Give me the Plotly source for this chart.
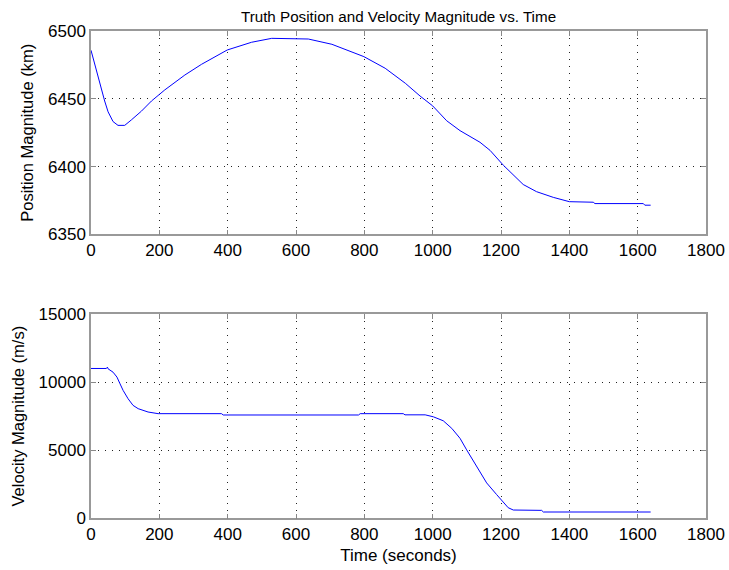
import plotly.graph_objects as go

# Position magnitude (km) vs time (s)
pos_t = [0, 10, 20, 30, 40, 50, 64.5, 79, 98.7, 118, 147.6, 177, 216, 274.7, 323.5,
         398.8, 470, 529, 597, 636, 705, 798.6, 861, 920, 963, 1000, 1041, 1080, 1138.5,
         1168, 1207, 1236, 1265, 1304, 1353, 1400, 1470, 1475, 1616.6, 1621, 1638]
pos_v = [6486, 6476.5, 6467, 6457, 6448.5, 6440.5, 6433.3, 6430.5, 6430.5, 6434.5, 6441,
         6448.5, 6456.7, 6467.7, 6475.6, 6486.2, 6491.9, 6494.8, 6494.8, 6494.3, 6490.4,
         6481.3, 6472.7, 6461.6, 6452.2, 6444.9, 6433.9, 6426.6, 6418, 6412, 6401, 6393.7,
         6386.8, 6381.5, 6377.3, 6374.1, 6373.7, 6372.7, 6372.7, 6371.5, 6371.5]

# Velocity magnitude (m/s) vs time (s)
vel_t = [0, 45, 48, 50, 64.5, 76, 84, 94, 108.5, 123, 138, 152.5, 167, 196.5, 382, 387,
         783, 788, 914, 919, 978, 1002, 1031, 1056, 1080, 1099.5, 1129, 1158, 1187, 1207,
         1221, 1236, 1319, 1324, 1638]
vel_v = [11000, 11000, 11100, 10975, 10730, 10366, 9927, 9390, 8780, 8293, 8049, 7927,
         7805, 7683, 7683, 7585, 7585, 7683, 7683, 7597, 7597, 7452, 7160, 6602, 5874,
         5025, 3811, 2598, 1748, 1141, 778, 607, 583, 462, 462]

x_ticks = [0, 200, 400, 600, 800, 1000, 1200, 1400, 1600, 1800]
pos_ticks = [6350, 6400, 6450, 6500]
vel_ticks = [0, 5000, 10000, 15000]

FONT = "Liberation Sans, Arial, Helvetica, sans-serif"
W, H = 729, 570

fig = go.Figure()
fig.add_trace(go.Scatter(x=pos_t, y=pos_v, mode="lines",
                         line=dict(color="#0000ff", width=1), xaxis="x", yaxis="y",
                         showlegend=False))
fig.add_trace(go.Scatter(x=vel_t, y=vel_v, mode="lines",
                         line=dict(color="#0000ff", width=1), xaxis="x2", yaxis="y2",
                         showlegend=False))

xd = [91 / W, 706 / W]
tickfont = dict(family=FONT, size=17, color="black")
grid = dict(showgrid=True, gridcolor="#222222", griddash="1px,6px", gridwidth=1, zeroline=False)
frame = dict(ticks="inside", ticklen=5, tickcolor="#888888", showline=True,
             linecolor="#999999", linewidth=1.5, mirror="ticks")
common_x = dict(range=[0, 1800], tickvals=x_ticks, ticktext=[str(v) for v in x_ticks],
                tickfont=tickfont, **grid, **frame)

fig.update_layout(
    width=W, height=H, margin=dict(l=0, r=0, t=0, b=0, autoexpand=False),
    paper_bgcolor="white", plot_bgcolor="white",
    xaxis=dict(domain=xd, anchor="y", **common_x),
    yaxis=dict(domain=[(H - 234.3) / H, (H - 31.3) / H], anchor="x", range=[6350, 6500],
               tickvals=pos_ticks, ticktext=[str(v) for v in pos_ticks], tickfont=tickfont,
               title=dict(text="Position Magnitude (km)", font=dict(family=FONT, size=16.5, color="black"),
                          standoff=10),
               **grid, **frame),
    xaxis2=dict(domain=xd, anchor="y2",
                title=dict(text="Time (seconds)", font=dict(family=FONT, size=17, color="black"),
                           standoff=6),
                **common_x),
    yaxis2=dict(domain=[(H - 518.3) / H, (H - 314) / H], anchor="x2", range=[0, 15000],
                tickvals=vel_ticks, ticktext=[str(v) for v in vel_ticks], tickfont=tickfont,
                title=dict(text="Velocity Magnitude (m/s)", font=dict(family=FONT, size=16.5, color="black"),
                           standoff=10),
                **grid, **frame),
    title=dict(text="Truth Position and Velocity Magnitude vs. Time",
               font=dict(family=FONT, size=15.2, color="black"),
               x=(91 + 706) / 2 / W, xanchor="center", y=1 - 16.5 / H, yanchor="middle"),
)

fig.write_html("out.html")
